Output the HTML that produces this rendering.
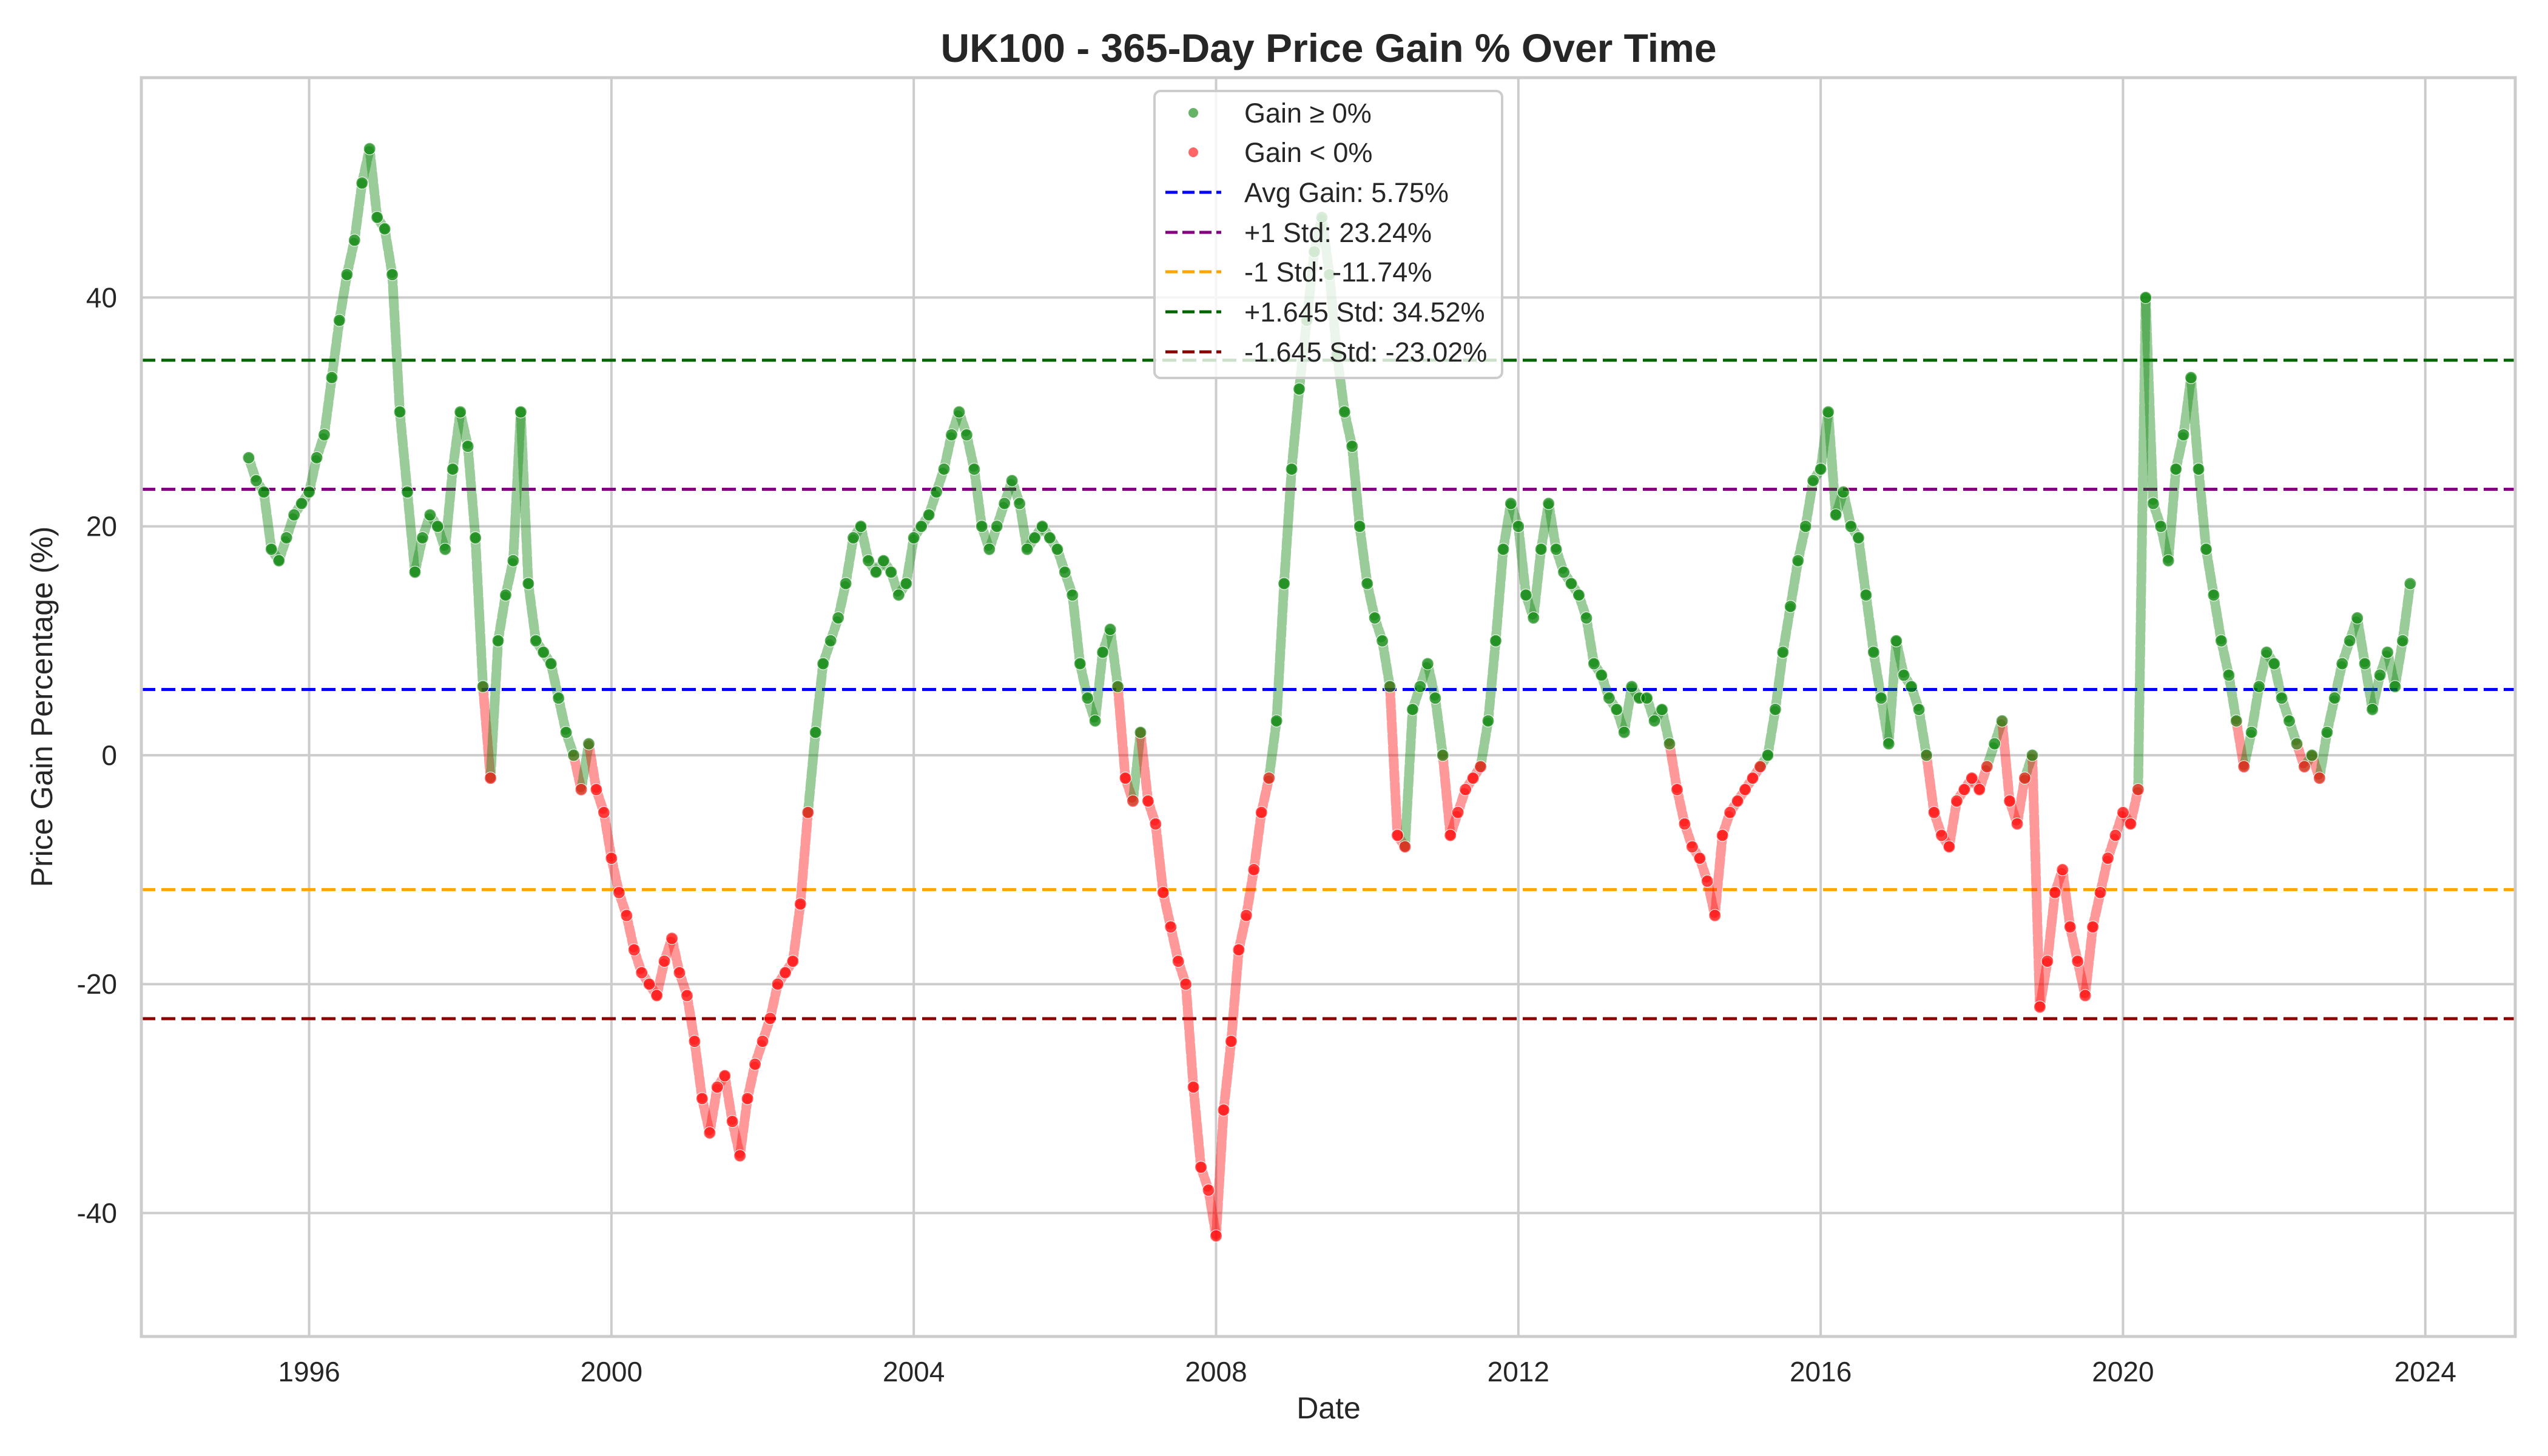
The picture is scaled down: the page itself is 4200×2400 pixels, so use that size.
<!DOCTYPE html>
<html>
<head>
<meta charset="utf-8">
<style>
  html,body{margin:0;padding:0;background:#fff;}
  svg{display:block;}
  text{font-family:"Liberation Sans",Arial,sans-serif;fill:#262626;}
</style>
</head>
<body>
<svg id="chart" width="4200" height="2400" viewBox="0 0 4200 2400" xmlns="http://www.w3.org/2000/svg">
  <rect x="0" y="0" width="4200" height="2400" fill="#fff"/>
  <g id="grid"></g>
  <g id="refs"></g>
  <g id="segs"></g>
  <g id="pts"></g>
  <rect x="233" y="128" width="3913" height="2075" fill="none" stroke="#cccccc" stroke-width="5"/>
  <g id="yticks"></g>
  <g id="xticks"></g>
  <text x="2190" y="102" text-anchor="middle" font-size="66" font-weight="bold">UK100 - 365-Day Price Gain % Over Time</text>
  <text x="2190" y="2338" text-anchor="middle" font-size="50">Date</text>
  <text transform="translate(86,1165) rotate(-90)" text-anchor="middle" font-size="50">Price Gain Percentage (%)</text>
  <g id="legend"></g>
</svg>
<script>
// ---- data ----
const startYear = 1995.2;
const stepYear = 0.1;
const gainValues = [
 26,24,23,18,17,19,21,22,
 23,26,28,33,38,42,45,50,53,47,
 46,42,30,23,16,19,21,20,18,25,
 30,27,19,6,-2,10,14,17,30,15,
 10,9,8,5,2,0,-3,1,-3,-5,
 -9,-12,-14,-17,-19,-20,-21,-18,-16,-19,
 -21,-25,-30,-33,-29,-28,-32,-35,-30,-27,
 -25,-23,-20,-19,-18,-13,-5,2,8,10,
 12,15,19,20,17,16,17,16,14,15,
 19,20,21,23,25,28,30,28,25,20,
 18,20,22,24,22,18,19,20,19,18,
 16,14,8,5,3,9,11,6,-2,-4,
 2,-4,-6,-12,-15,-18,-20,-29,-36,-38,
 -42,-31,-25,-17,-14,-10,-5,-2,3,15,
 25,32,38,44,47,42,35,30,27,20,
 15,12,10,6,-7,-8,4,6,8,5,
 0,-7,-5,-3,-2,-1,3,10,18,22,
 20,14,12,18,22,18,16,15,14,12,
 8,7,5,4,2,6,5,5,3,4,
 1,-3,-6,-8,-9,-11,-14,-7,-5,-4,
 -3,-2,-1,0,4,9,13,17,20,24,
 25,30,21,23,20,19,14,9,5,1,
 10,7,6,4,0,-5,-7,-8,-4,-3,
 -2,-3,-1,1,3,-4,-6,-2,0,-22,
 -18,-12,-10,-15,-18,-21,-15,-12,-9,-7,
 -5,-6,-3,40,22,20,17,25,28,33,
 25,18,14,10,7,3,-1,2,6,9,
 8,5,3,1,-1,0,-2,2,5,8,
 10,12,8,4,7,9,6,10,15
];
const refValues = [5.75, 23.24, -11.74, 34.52, -23.02];
const refColors = ["#0000ff", "#800080", "#ffa500", "#006400", "#8b0000"];
const refLabels = ["Avg Gain: 5.75%", "+1 Std: 23.24%", "-1 Std: -11.74%", "+1.645 Std: 34.52%", "-1.645 Std: -23.02%"];
const yTicks = [-40, -20, 0, 20, 40];
const xTicks = [1996, 2000, 2004, 2008, 2012, 2016, 2020, 2024];

// ---- axes ----
const PL = 233, PR = 4146, PT = 128, PB = 2203;
const xMin = 1993.78, xMax = 2025.19, yMin = -50.79, yMax = 59.21;
function xs(v){ return PL + (v - xMin) / (xMax - xMin) * (PR - PL); }
function ys(v){ return PB - (v - yMin) / (yMax - yMin) * (PB - PT); }
const NS = "http://www.w3.org/2000/svg";
function mk(tag, attrs, parent){
  const e = document.createElementNS(NS, tag);
  for (const k in attrs) e.setAttribute(k, attrs[k]);
  parent.appendChild(e);
  return e;
}
const grid = document.getElementById('grid');
const yt = document.getElementById('yticks');
const xt = document.getElementById('xticks');
yTicks.forEach(t => {
  const l = mk('line', {x1:PL, x2:PR, y1:ys(t), y2:ys(t), stroke:'#cccccc', 'stroke-width':4}, grid);
  
  
  const tx = mk('text', {x:193, y:ys(t)+16, 'text-anchor':'end', 'font-size':46}, yt);
  tx.textContent = t;
  
  
});
xTicks.forEach(t => {
  const l = mk('line', {x1:xs(t), x2:xs(t), y1:PT, y2:PB, stroke:'#cccccc', 'stroke-width':4}, grid);
  
  
  const tx = mk('text', {x:xs(t), y:2277, 'text-anchor':'middle', 'font-size':46}, xt);
  tx.textContent = t;
  
  
});

// ---- reference lines ----
const refs = document.getElementById('refs');
refValues.forEach((v, i) => {
  const l = mk('line', {x1:PL, x2:PR, y1:ys(v), y2:ys(v), stroke:refColors[i], 'stroke-width':5, 'stroke-dasharray':'23 10'}, refs);
  
  
});

// ---- series ----
const segs = document.getElementById('segs');
const pts = document.getElementById('pts');
const GREEN = '#008000', RED = '#ff0000';
for (let i = 0; i < gainValues.length - 1; i++) {
  const a = gainValues[i], b = gainValues[i+1];
  const s = mk('line', {x1:xs(startYear + i*stepYear), y1:ys(a), x2:xs(startYear + (i+1)*stepYear), y2:ys(b),
    stroke: (a >= 0 && b >= 0) ? GREEN : ((a < 0 && b < 0) ? RED : (b >= 0 ? GREEN : RED)),
    'stroke-width':16, 'stroke-linecap':'round', 'stroke-opacity':0.4, 'stroke-dasharray':'14 6'}, segs);
  
  
}
gainValues.forEach((v, i) => {
  const c = mk('circle', {cx:xs(startYear + i*stepYear), cy:ys(v), r:10,
    fill: v >= 0 ? GREEN : RED, 'fill-opacity':0.6, stroke:'#fff', 'stroke-width':1}, pts);
  
  
});

// ---- legend ----
const lg = document.getElementById('legend');
const box = mk('rect', {x:1903, y:150, width:573, height:473, rx:10, fill:'#ffffff', 'fill-opacity':0.8, stroke:'#cccccc', 'stroke-width':4}, lg);


const rowY = [186, 251, 317, 383, 448, 514, 580];
const lab = ['Gain \u2265 0%', 'Gain < 0%'].concat(refLabels);
lab.forEach((t, i) => {
  const y = rowY[i];
  if (i < 2) {
    const m = mk('circle', {cx:1967, cy:y, r:8, fill: i === 0 ? GREEN : RED, 'fill-opacity':0.6}, lg);
    
    
  } else {
    const m = mk('line', {x1:1921, x2:2013, y1:y, y2:y, stroke:refColors[i-2], 'stroke-width':5, 'stroke-dasharray':'20 8'}, lg);
    
    
  }
  const tx = mk('text', {x:2051, y:y+16, 'font-size':45}, lg);
  tx.textContent = t;
  
  
});
</script>
</body>
</html>
